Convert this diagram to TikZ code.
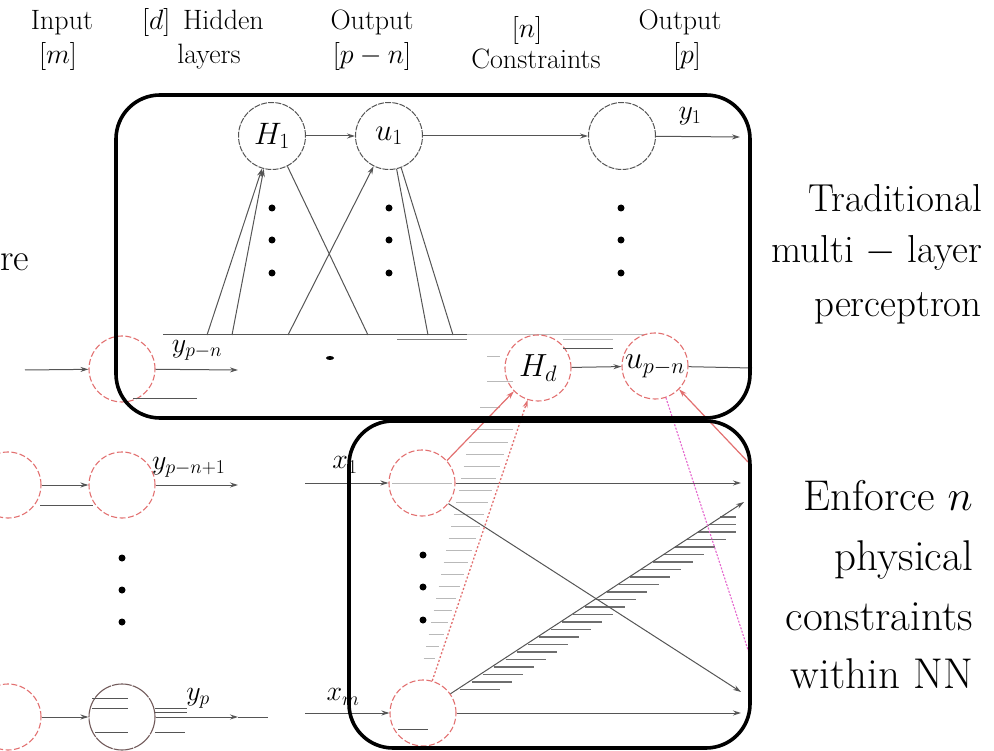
\RequirePackage{fix-cm}
\documentclass[tikz,border=0pt]{standalone}
\usepackage{fontspec}
\usetikzlibrary{arrows.meta}
\definecolor{ghostred}{RGB}{226,112,112}
\definecolor{ghostpink}{RGB}{228,100,205}
\definecolor{linegray}{RGB}{85,85,85}
\definecolor{hatchdark}{RGB}{110,110,110}
\definecolor{hatchlight}{RGB}{185,185,185}
\tikzset{
  neuron/.style={circle, draw=linegray, line width=1pt, dash pattern=on 6pt off 1.2pt, minimum size=67pt, inner sep=0pt, font=\fontsize{31}{34}\selectfont},
  ghost/.style={circle, draw=ghostred, line width=1.1pt, dash pattern=on 6pt off 2.5pt, minimum size=66pt, inner sep=0pt, font=\fontsize{32}{34}\selectfont},
  conn/.style={draw=linegray, line width=1pt, -{Stealth[length=8pt,width=5pt]}},
  plain/.style={draw=linegray, line width=1pt},
  faint/.style={draw=hatchlight, line width=1pt},
  hatchline/.style={draw=hatchdark, line width=1.2pt},
  redconn/.style={draw=ghostred, line width=1.2pt, -{Stealth[length=8pt,width=5pt]}},
  reddot/.style={draw=ghostred, line width=1.3pt, dash pattern=on 2pt off 2pt, -{Stealth[length=8pt,width=5pt]}},
  pinkdot/.style={draw=ghostpink, line width=1.1pt, dash pattern=on 2pt off 1.5pt},
  frame/.style={draw=black, line width=3.6pt, rounded corners=44pt},
  dotm/.style={circle, fill=black, inner sep=0pt, minimum size=7pt},
  lab/.style={font=\fontsize{28}{32}\selectfont, inner sep=0pt, anchor=base},
  mlab/.style={font=\fontsize{28}{30}\selectfont, inner sep=0pt},
  sideA/.style={font=\fontsize{39}{46}\selectfont, inner sep=0pt, anchor=base east},
  sideB/.style={font=\fontsize{43}{50}\selectfont, inner sep=0pt, anchor=base east},
}
\begin{document}
\begin{tikzpicture}[x=1pt,y=-1pt]
\useasboundingbox (0,0) rectangle (994,751);

% ---------- top labels ----------
\node[lab] (inpA) at (62,30) {Input};
\node[lab] (inpB) at (58,64) {$[m]$};
\node[lab] (hidA) at (203,30) {$[d]$\hspace{0.45em}Hidden};
\node[lab] (hidB) at (209,64) {layers};
\node[lab] (outA) at (372,30) {Output};
\node[lab] (outB) at (372,64) {$[p-n]$};
\node[lab] (conA) at (527,38) {$[n]$};
\node[lab] (conB) at (536,69) {Constraints};
\node[lab] (finA) at (680,30) {Output};
\node[lab] (finB) at (687,64) {$[p]$};

% ---------- side texts ----------
\node[font=\fontsize{38}{44}\selectfont, inner sep=0pt, anchor=base west] (cut) at (0,271) {re};
\node[sideA] (sa1) at (982,212) {Traditional};
\node[sideA] (sa2) at (982,263) {multi $-$ layer};
\node[sideA] (sa3) at (982,317) {perceptron};
\node[sideB] (sb1) at (973,510) {Enforce $n$};
\node[sideB] (sb2) at (973,570) {physical};
\node[sideB] (sb3) at (973,630) {constraints};
\node[sideB] (sb4) at (973,688) {within NN};

% ---------- upper network ----------
\node[neuron] (h1) at (272,136) {$H_1$};
\node[neuron] (u1) at (389,136) {$u_1$};
\node[neuron] (o1) at (622,136) {};
\coordinate (y1end) at (740,137);
\node[mlab] (y1lab) at (690,116) {$y_1$};
\draw[conn] (h1) -- (u1);
\draw[conn] (u1) -- (o1);
\draw[conn] (o1) -- (y1end);

\foreach \xx/\nm in {272/a,389/b,621/c}{
  \node[dotm] (d\nm1) at (\xx,208) {};
  \node[dotm] (d\nm2) at (\xx,240) {};
  \node[dotm] (d\nm3) at (\xx,273) {};
}

\coordinate (b1) at (207,335);
\coordinate (b2) at (232,335);
\coordinate (b3) at (288,335);
\coordinate (b4) at (368,335);
\coordinate (b5) at (428,335);
\coordinate (b6) at (453,335);
\draw[conn] (b1) -- (h1.253);
\draw[conn] (b2) -- (h1.256);
\draw[conn] (b3) -- (u1.243);
\draw[plain] (h1.297) -- (b4);
\draw[plain] (u1.283) -- (b5);
\draw[plain] (u1.291) -- (b6);
\draw[plain] (163,335) -- (467,335);
\draw[faint] (467,335) -- (647,335);
\draw[plain, draw=gray] (397,340) -- (467,340);
\draw[faint] (563,340) -- (613,340);
\fill[black] (330,358) ellipse (4pt and 2pt);

% ---------- ghost row y_{p-n} ----------
\node[ghost] (ypn) at (122,369) {};
\coordinate (ypnin) at (25,370);
\coordinate (ypnout) at (238,370);
\draw[conn] (ypnin) -- (ypn);
\draw[conn] (ypn) -- (ypnout);
\node[mlab] (ypnlab) at (197,350) {$y_{p-n}$};
\draw[plain] (133,399) -- (197,399);

\node[ghost] (hd) at (538,368) {$H_d$};
\node[ghost] (upn) at (655,366) {$u_{p-n}$};
\coordinate (upnout) at (752,368);
\draw[conn] (hd) -- (upn);
\draw[plain] (upn) -- (upnout);
\draw[plain] (563,349) -- (613,349);
\draw[faint] (487,357) -- (500,357);
\draw[faint] (487,382) -- (513,382);
\draw[faint] (480,408) -- (500,408);

% ---------- lower left column ----------
\node[ghost] (la) at (8,485) {};
\node[ghost] (lb) at (8,717) {};
\node[ghost] (ypn1) at (122,485) {};
\node[ghost, draw=linegray!80!ghostred, dash pattern=on 20pt off 1pt] (yp) at (122,717) {};
\coordinate (ypn1out) at (238,485);
\coordinate (ypout) at (238,717);
\draw[conn] (la) -- (ypn1);
\draw[conn] (lb) -- (yp);
\draw[conn] (ypn1) -- (ypn1out);
\draw[conn] (yp) -- (ypout);
\draw[plain] (238,717) -- (268,717);
\draw[plain] (40,505) -- (93,505);
\draw[plain] (92,698) -- (128,698);
\draw[plain] (92,708) -- (128,708);
\draw[plain] (95,732) -- (128,732);
\draw[plain] (155,708) -- (187,708);
\draw[plain] (155,712) -- (187,712);
\draw[plain] (155,732) -- (185,732);
\node[mlab, anchor=west] (ypn1lab) at (152,467) {$y_{p-n+1}$};
\node[mlab] (yplab) at (198,698) {$y_p$};
\node[dotm] (dl1) at (122,558) {};
\node[dotm] (dl2) at (122,590) {};
\node[dotm] (dl3) at (122,622) {};

% ---------- lower box network ----------
\node[ghost] (x1) at (422,483) {};
\node[ghost] (xm) at (423,713) {};
\coordinate (x1in) at (305,483);
\coordinate (xmin) at (305,713);
\node[mlab] (x1lab) at (345,465) {$x_1$};
\node[mlab] (xmlab) at (343,697) {$x_m$};
\draw[conn] (x1in) -- (x1);
\draw[conn] (xmin) -- (xm);
\draw[plain, draw=hatchlight] (392,483) -- (452,483);
\draw[plain] (398,729) -- (428,729);

\node[dotm] (dm1) at (423,555) {};
\node[dotm] (dm2) at (423,587) {};
\node[dotm] (dm3) at (423,620) {};

\coordinate (t1) at (741,483);
\coordinate (t2) at (744,502);
\coordinate (t3) at (741,692);
\coordinate (t4) at (741,713);
\coordinate (rr) at (748,462);
\coordinate (pk) at (749,653);

% hatch along xm -> t2
\foreach \yy in {517,524.5,...,690}{
  \pgfmathsetmacro{\xl}{455+(693-\yy)*1.508}
  \pgfmathsetmacro{\xr}{min(\xl+40,736)}
  \draw[hatchline] (\xl,\yy) -- (\xr,\yy);
}
% light hatch left of dotted line
\foreach \yy in {430,442,...,665}{
  \pgfmathsetmacro{\xd}{433+(680-\yy)*0.338}
  \pgfmathsetmacro{\ll}{8+(680-\yy)*0.13}
  \draw[faint] ({\xd-\ll-6},\yy) -- ({\xd-5},\yy);
}

\draw[conn] (x1) -- (t1);
\draw[conn] (xm) -- (t4);
\draw[conn] (x1.-38) -- (t3);
\draw[conn] (xm.35) -- (t2);
\draw[redconn] (x1.42) -- (hd.224);
\draw[reddot] (xm.74) -- (hd.252);
\draw[redconn] (rr) -- (upn.316);
\draw[pinkdot] (upn.289) -- (pk);

% ---------- frames ----------
\draw[frame] (116,95) rectangle (750,418);
\draw[frame] (349,421) rectangle (750,748);
\end{tikzpicture}
\end{document}
